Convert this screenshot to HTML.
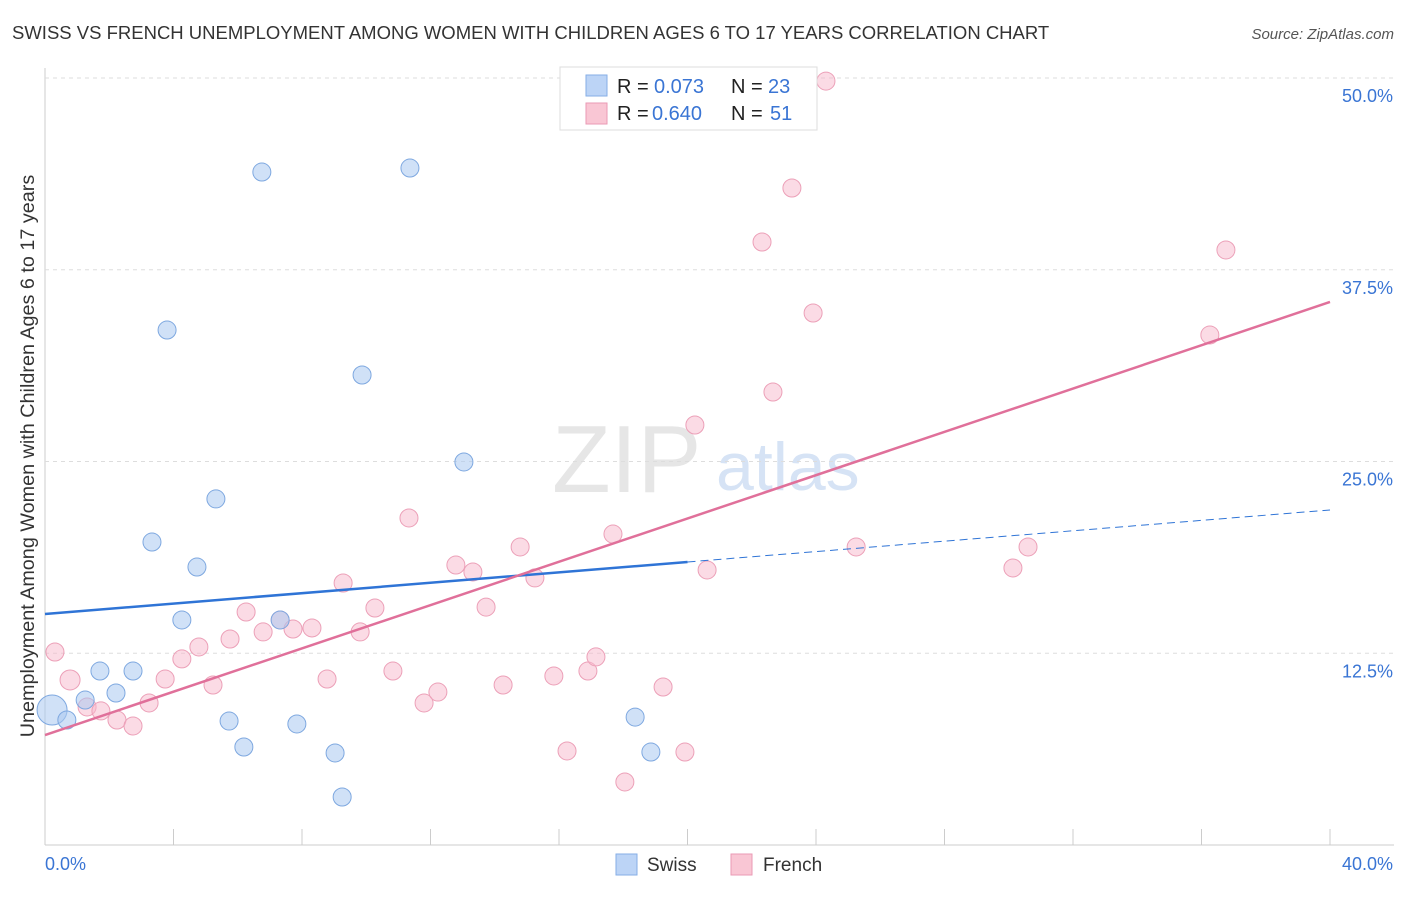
<!DOCTYPE html>
<html><head><meta charset="utf-8"><style>
body{margin:0;background:#fff;font-family:"Liberation Sans",sans-serif}
svg text{font-family:"Liberation Sans",sans-serif}
</style></head><body>
<svg id="c" width="1406" height="892" xmlns="http://www.w3.org/2000/svg">
<text x="12" y="39" font-size="18.5" fill="#333">SWISS VS FRENCH UNEMPLOYMENT AMONG WOMEN WITH CHILDREN AGES 6 TO 17 YEARS CORRELATION CHART</text>
<text x="1394" y="39" font-size="15" fill="#555" text-anchor="end" font-style="italic">Source: ZipAtlas.com</text>
<text x="34" y="456" font-size="19.8" fill="#333" text-anchor="middle" transform="rotate(-90 34 456)">Unemployment Among Women with Children Ages 6 to 17 years</text>
<text x="552" y="492" font-size="96" fill="#e6e6e6" font-family="Liberation Serif">ZIP</text>
<text x="716" y="490" font-size="68" fill="#d6e3f5">atlas</text>
<g id="grid"></g><g id="marks"></g>
<g>
<rect x="560" y="67" width="257" height="63" fill="#fff" stroke="#ddd"/>
<rect x="586" y="75" width="21" height="21" fill="#bcd4f6" stroke="#86aee6"/>
<rect x="586" y="103" width="21" height="21" fill="#f9c6d4" stroke="#ea9ab4"/>
<text x="617" y="93" font-size="20" fill="#222">R = </text><text x="654" y="93" font-size="20" fill="#3a75d4">0.073</text>
<text x="731" y="93" font-size="20" fill="#222">N = </text><text x="768" y="93" font-size="20" fill="#3a75d4">23</text>
<text x="617" y="120" font-size="20" fill="#222">R = </text><text x="652" y="120" font-size="20" fill="#3a75d4">0.640</text>
<text x="731" y="120" font-size="20" fill="#222">N = </text><text x="770" y="120" font-size="20" fill="#3a75d4">51</text>
</g>
<g>
<rect x="616" y="854" width="21" height="21" fill="#bcd4f6" stroke="#86aee6"/>
<text x="647" y="871" font-size="19" fill="#333">Swiss</text>
<rect x="731" y="854" width="21" height="21" fill="#f9c6d4" stroke="#ea9ab4"/>
<text x="763" y="871" font-size="19" fill="#333">French</text>
</g>
</svg>
<script>
const swissX=[0.22,0.68,1.25,1.71,2.21,2.74,3.33,3.80,4.26,4.73,5.32,5.73,6.19,6.75,7.32,7.84,9.03,9.25,9.87,11.36,13.04,18.37,18.86];
const swissY=[8.8,8.15,9.45,11.34,9.91,11.34,19.75,33.57,14.67,18.12,22.56,8.08,6.39,43.87,14.67,7.89,6.0,3.13,30.64,44.13,24.97,8.34,6.06];
const frenchX=[0.31,0.78,1.31,1.74,2.24,2.74,3.24,3.74,4.26,4.79,5.23,5.76,6.26,6.79,7.32,7.72,8.31,8.78,9.28,9.81,10.27,10.83,11.33,11.80,12.23,12.79,13.32,13.73,14.26,14.79,15.25,15.84,16.25,16.90,17.15,17.68,18.05,19.24,19.92,20.23,20.61,22.32,22.66,23.25,23.91,24.31,25.25,30.13,30.60,36.26,36.76];
const frenchY=[12.58,10.76,9.0,8.74,8.15,7.76,9.26,10.82,12.13,12.91,10.43,13.43,15.19,13.89,14.67,14.08,14.15,10.82,17.08,13.89,15.45,11.34,21.32,9.26,9.97,18.25,17.80,15.51,10.43,19.43,17.41,11.02,6.13,11.34,12.26,20.27,4.11,10.30,6.06,27.38,17.93,39.31,29.53,42.83,34.68,49.80,19.43,18.06,19.43,33.25,38.79];
const swissTrend=[15.06,21.84];
const frenchTrend=[7.17,35.4];
const yTicks=[12.5,25.0,37.5,50.0];
const xTicks=[0,4,8,12,16,20,24,28,32,36,40];
const NS='http://www.w3.org/2000/svg';
const X=v=>45+v*1285/40, Y=v=>845-v*767/50;
function mk(t,a,p){const e=document.createElementNS(NS,t);for(const k in a)e.setAttribute(k,a[k]);p.appendChild(e);return e;}
const g=document.getElementById('grid'),m=document.getElementById('marks');
mk('line',{x1:45,y1:845,x2:1394,y2:845,stroke:'#ccc'},g);
mk('line',{x1:45,y1:68,x2:45,y2:845,stroke:'#ccc'},g);
yTicks.forEach(t=>{const l=mk('line',{x1:45,y1:Y(t),x2:1394,y2:Y(t),stroke:'#ddd','stroke-dasharray':'4 4'},g);


const tx=mk('text',{x:1393,y:Y(t)+24,'font-size':18,fill:'#3a75d4','text-anchor':'end'},g);tx.textContent=t.toFixed(1)+'%';

});
xTicks.forEach(t=>{const l=mk('line',{x1:X(t),y1:829,x2:X(t),y2:845,stroke:'#ccc'},g);

});
[[0,'0.0%',45,'start'],[40,'40.0%',1393,'end']].forEach(a=>{const tx=mk('text',{x:a[2],y:870,'font-size':18,fill:'#3a75d4','text-anchor':a[3]},g);tx.textContent=a[1];

});
frenchX.forEach((x,i)=>{const c=mk('circle',{cx:X(x),cy:Y(frenchY[i]),r:i<2?(i==1?10:9):9,fill:'rgba(248,184,204,0.5)',stroke:'#eca0b8','stroke-width':1},m);

});
swissX.forEach((x,i)=>{const c=mk('circle',{cx:X(x),cy:Y(swissY[i]),r:i==0?15:9,fill:'rgba(170,200,240,0.55)',stroke:'#7ea8e0','stroke-width':1},m);

});
const sy=x=>swissTrend[0]+(swissTrend[1]-swissTrend[0])*x/40;
let l=mk('line',{x1:X(0),y1:Y(sy(0)),x2:X(20),y2:Y(sy(20)),stroke:'#2f74d6','stroke-width':2.5},m);


l=mk('line',{x1:X(20),y1:Y(sy(20)),x2:X(40),y2:Y(sy(40)),stroke:'#2f74d6','stroke-width':1,'stroke-dasharray':'8 5'},m);


l=mk('line',{x1:X(0),y1:Y(frenchTrend[0]),x2:X(40),y2:Y(frenchTrend[1]),stroke:'#e0709a','stroke-width':2.5},m);


</script>
</body></html>
